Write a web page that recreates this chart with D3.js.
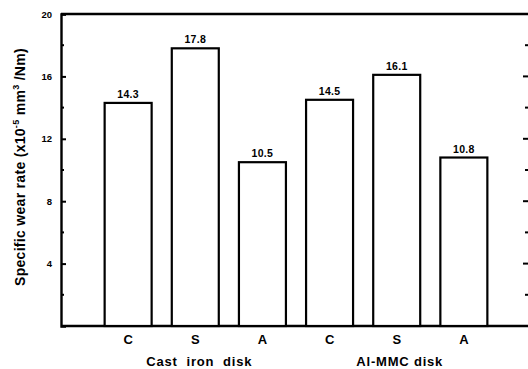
<!DOCTYPE html>
<html><head><meta charset="utf-8">
<script src="https://cdn.jsdelivr.net/npm/d3@7"></script>
<style>body{margin:0;background:#fff}svg{display:block}text{font-family:"Liberation Sans",Arial,sans-serif;font-weight:bold;fill:#000}</style>
</head><body>
<script>
const categories = ["C","S","A","C","S","A"];
const values = [14.3, 17.8, 10.5, 14.5, 16.1, 10.8];
const valueLabels = ["14.3","17.8","10.5","14.5","16.1","10.8"];
const groups = ["Cast  iron  disk","Al-MMC disk"];
const yTicks = [4, 8, 12, 16, 20];
const yMinor = [2, 6, 10, 14, 18];

const W = 528, H = 369;
const svg = d3.select("body").append("svg").attr("width", W).attr("height", H);
const x = d3.scaleLinear().domain([0, 7]).range([61, 531]);
const y = d3.scaleLinear().domain([0, 20]).range([326, 14]);
const bw = x(0.7) - x(0);

// frame
svg.append("line").attr("x1", x(0)).attr("x2", x(7)).attr("y1", y(20)).attr("y2", y(20)).attr("stroke", "#000").attr("stroke-width", 2.4);
svg.append("line").attr("x1", x(0)).attr("x2", x(7)).attr("y1", y(0)).attr("y2", y(0)).attr("stroke", "#000").attr("stroke-width", 2.4);
svg.append("line").attr("x1", x(7)).attr("x2", x(7)).attr("y1", y(0)).attr("y2", y(20)).attr("stroke", "#000").attr("stroke-width", 2.4);

// left axis
const yAxis = d3.axisLeft(y).tickValues(yTicks).tickSize(-5).tickPadding(9).tickFormat(d3.format("d"));
const ga = svg.append("g").attr("transform", `translate(${x(0)},0)`).call(yAxis);
ga.select(".domain").attr("stroke-width", 2.4);
ga.selectAll(".tick line").attr("stroke-width", 2);
ga.selectAll("text").style("font-size", "9.5px");
svg.append("g").selectAll("line").data(yMinor).join("line")
  .attr("x1", x(0)).attr("x2", x(0) + 3).attr("y1", d => y(d)).attr("y2", d => y(d))
  .attr("stroke", "#000").attr("stroke-width", 2);
// right axis ticks (inward)
svg.append("g").selectAll("line").data(yTicks.filter(d => d < 20)).join("line")
  .attr("x1", x(7)).attr("x2", x(7) - 8).attr("y1", d => y(d)).attr("y2", d => y(d))
  .attr("stroke", "#000").attr("stroke-width", 2);
svg.append("g").selectAll("line").data(yMinor).join("line")
  .attr("x1", x(7)).attr("x2", x(7) - 6).attr("y1", d => y(d)).attr("y2", d => y(d))
  .attr("stroke", "#000").attr("stroke-width", 2);

// bars
const idx = d3.range(values.length);
svg.append("g").selectAll("rect").data(idx).join("rect")
  .attr("x", i => x(i + 1) - bw / 2).attr("width", bw)
  .attr("y", i => y(values[i])).attr("height", i => y(0) - y(values[i]))
  .attr("fill", "#fff").attr("stroke", "#000").attr("stroke-width", 2.2);
svg.append("g").selectAll("text").data(idx).join("text")
  .attr("x", i => x(i + 1)).attr("y", i => y(values[i]) - 5)
  .attr("text-anchor", "middle").style("font-size", "10.5px").style("letter-spacing", "0.3px").text(i => valueLabels[i]);

// category labels
svg.append("g").selectAll("text").data(idx).join("text")
  .attr("x", i => x(i + 1)).attr("y", 344)
  .attr("text-anchor", "middle").style("font-size", "13px").text(i => categories[i]);
svg.append("g").selectAll("text").data(groups).join("text")
  .attr("x", (d, i) => x(i * 3 + 2) + (i === 0 ? 4 : 3)).attr("y", 366)
  .attr("text-anchor", "middle").style("font-size", "13px").style("letter-spacing", "0.8px")
  .style("white-space", "pre").text(d => d);

// y title
const t = svg.append("text").attr("transform", `translate(25,167) rotate(-90)`)
  .attr("text-anchor", "middle").style("font-size", "14px").style("letter-spacing", "0.3px");
t.append("tspan").text("Specific wear rate (x10");
t.append("tspan").attr("dy", -6).style("font-size", "9px").text("-5");
t.append("tspan").attr("dy", 6).text(" mm");
t.append("tspan").attr("dy", -6).style("font-size", "9px").text("3");
t.append("tspan").attr("dy", 6).text(" /Nm)");
</script>
</body></html>
